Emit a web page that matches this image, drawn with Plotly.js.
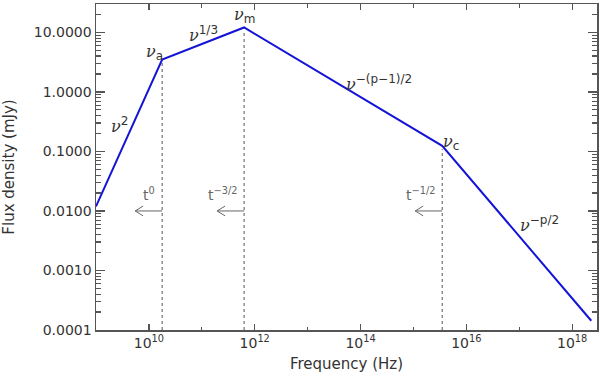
<!DOCTYPE html>
<html><head><meta charset="utf-8">
<script src="https://cdn.plot.ly/plotly-3.0.1.min.js"></script>
<style>html,body{margin:0;padding:0;background:#fff}#plot{width:600px;height:377px}</style>
</head><body><div id="plot"></div>
<script>
// Break frequencies (Hz) and flux densities (mJy) of the broken power-law spectrum
const nuBreak = [1e9, 1.78e10, 6.3e11, 3.5e15, 2.3e18];
const fluxBreak = [0.0119, 3.5, 12.1, 0.124, 1.43e-4];
// indices of the marked breaks (nu_a, nu_m, nu_c)
const markedIdx = [1, 2, 3];
const arrowFlux = 0.01;
const timeLabels = ['t<sup>0</sup>', 't<sup>\u22123/2</sup>', 't<sup>\u22121/2</sup>'];
const breakLabels = ['a', 'm', 'c'];
const yTickVals = [1e-4, 1e-3, 1e-2, 1e-1, 1, 10];
const yTickText = ['0.0001', '0.0010', '0.0100', '0.1000', '1.0000', '10.0000'];
const xTickVals = [1e10, 1e12, 1e14, 1e16, 1e18];
const xTickText = ['10<sup>10</sup>', '10<sup>12</sup>', '10<sup>14</sup>', '10<sup>16</sup>', '10<sup>18</sup>'];
const xMinorVals = [1e9, 1e11, 1e13, 1e15, 1e17];

const yMinorVals = [];
for (let d = -4; d <= 1; d++) for (let k = 2; k <= 9; k++) yMinorVals.push(k * Math.pow(10, d));

const gray = '#555';
const txt = '#333';
const traces = [];
traces.push({x: nuBreak, y: fluxBreak, mode: 'lines', line: {color: 'rgb(20,20,215)', width: 2}, hoverinfo: 'skip'});

// dotted verticals from the axis up to each marked break
const dx = [], dy = [];
markedIdx.forEach(i => { dx.push(nuBreak[i], nuBreak[i], null); dy.push(1e-4, fluxBreak[i] * 0.88, null); });
traces.push({x: dx, y: dy, mode: 'lines', line: {color: '#555', width: 1, dash: 'dot'}, hoverinfo: 'skip'});

// leftward arrows (break frequencies move to lower frequency with time)
const ax = [], ay = [];
const shaftDec = 0.51, armDx = 0.15, armDy = 0.082;
markedIdx.forEach(i => {
  const head = nuBreak[i] * Math.pow(10, -shaftDec);
  ax.push(nuBreak[i], head, null);
  ay.push(arrowFlux, arrowFlux, null);
  ax.push(head * Math.pow(10, armDx), head, head * Math.pow(10, armDx), null);
  ay.push(arrowFlux * Math.pow(10, armDy), arrowFlux, arrowFlux * Math.pow(10, -armDy), null);
});
traces.push({x: ax, y: ay, mode: 'lines', line: {color: '#666', width: 1}, hoverinfo: 'skip'});

const nuFont = {family: 'DejaVu Serif', size: 16, color: txt};
const nu = '<i>\u03bd</i>';
const sansSpan = s => '<span style="font-family:DejaVu Sans;font-size:12px">' + s + '</span>';
const annotations = [];
const breakOffsets = [[-8, 7], [0, 12], [9, 3]];
markedIdx.forEach((i, k) => {
  annotations.push({x: Math.log10(nuBreak[i]), y: Math.log10(fluxBreak[i]), xref: 'x', yref: 'y',
    text: nu + '<sub>' + sansSpan(breakLabels[k]) + '</sub>', showarrow: false, font: nuFont,
    xshift: breakOffsets[k][0], yshift: breakOffsets[k][1]});
  annotations.push({x: Math.log10(nuBreak[i]), y: Math.log10(arrowFlux), xref: 'x', yref: 'y',
    text: timeLabels[k], showarrow: false, xanchor: 'right', xshift: -5, yshift: 17,
    font: {family: 'DejaVu Sans', size: 14, color: '#666'}});
});
const slopeLabels = [
  {x: 9.45, y: -0.56, t: nu + '<sup>' + sansSpan('2') + '</sup>'},
  {x: 11.04, y: 0.976, t: nu + '<sup>' + sansSpan('1/3') + '</sup>'},
  {x: 14.34, y: 0.157, t: nu + '<sup>' + sansSpan('\u2212(p\u22121)/2') + '</sup>'},
  {x: 17.375, y: -2.22, t: nu + '<sup>' + sansSpan('\u2212p/2') + '</sup>'}
];
slopeLabels.forEach(s => annotations.push({x: s.x, y: s.y, xref: 'x', yref: 'y', text: s.t, showarrow: false, font: nuFont}));

const axisCommon = {type: 'log', showline: true, linecolor: gray, linewidth: 1.5, mirror: 'ticks',
  ticks: 'inside', tickcolor: gray, tickwidth: 1.2, showgrid: false, zeroline: false,
  tickfont: {family: 'DejaVu Sans', size: 14, color: txt}, tickmode: 'array'};

const layout = {
  width: 600, height: 377, margin: {l: 96, r: 3, t: 4, b: 47},
  paper_bgcolor: '#fff', plot_bgcolor: '#fff', showlegend: false,
  xaxis: Object.assign({}, axisCommon, {range: [9, 18.47], tickvals: xTickVals, ticktext: xTickText, ticklen: 6,
    minor: {tickmode: 'array', tickvals: xMinorVals, ticks: 'inside', ticklen: 3.5, tickcolor: gray, tickwidth: 1.2},
    title: {text: 'Frequency (Hz)', font: {family: 'DejaVu Sans', size: 15, color: txt}, standoff: 8}}),
  yaxis: Object.assign({}, axisCommon, {range: [-4, Math.log10(30)], tickvals: yTickVals, ticktext: yTickText, ticklen: 9,
    minor: {tickmode: 'array', tickvals: yMinorVals, ticks: 'inside', ticklen: 5, tickcolor: gray, tickwidth: 1.2},
    title: {text: 'Flux density (mJy)', font: {family: 'DejaVu Sans', size: 15, color: txt}, standoff: 15}}),
  annotations: annotations
};
Plotly.newPlot('plot', traces, layout, {staticPlot: true, displayModeBar: false});
</script></body></html>
